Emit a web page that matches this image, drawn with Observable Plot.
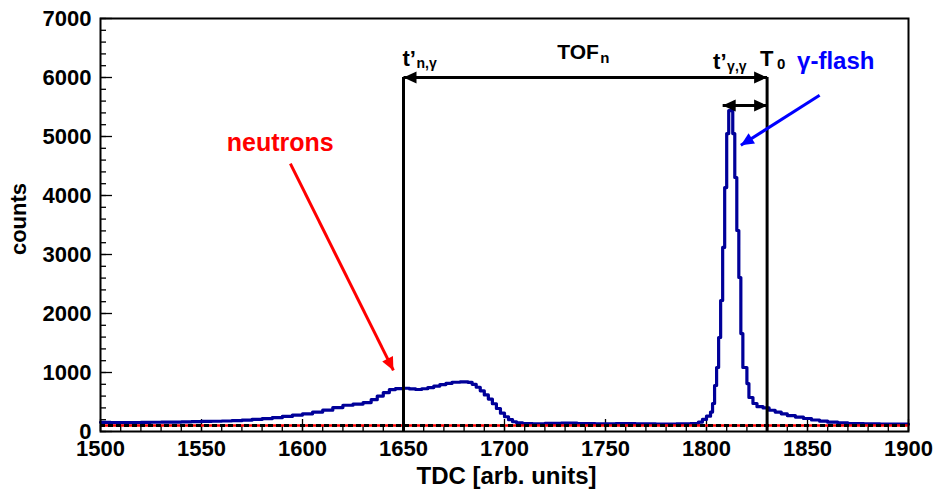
<!DOCTYPE html>
<html>
<head>
<meta charset="utf-8">
<script src="https://cdn.jsdelivr.net/npm/d3@7"></script>
<script src="https://cdn.jsdelivr.net/npm/@observablehq/plot@0.6"></script>
<style>
  body { margin: 0; background: #fff; }
  #chart svg { display: block; }
</style>
</head>
<body>
<div id="chart"></div>
<script>
// TDC spectrum: bin left edges and counts (step histogram)
const tdc = [
  1500, 1505, 1510, 1515, 1520, 1525, 1530, 1535, 1540, 1545,
  1550, 1555, 1560, 1565, 1570, 1575, 1580, 1585, 1590, 1595,
  1600, 1605, 1610, 1615, 1620, 1625, 1630, 1634, 1637, 1640,
  1643, 1646, 1650, 1653, 1656, 1659, 1662, 1665, 1668, 1671,
  1674, 1678, 1682, 1684, 1686, 1688, 1690, 1692, 1694, 1696,
  1698, 1700, 1702, 1704, 1706, 1709, 1714, 1720, 1728, 1736,
  1745, 1755, 1765, 1775, 1785, 1792, 1796, 1798, 1800, 1802,
  1803, 1804, 1805, 1806, 1807, 1808, 1809, 1810, 1811, 1812,
  1813, 1814, 1815, 1816, 1817, 1818, 1820, 1821, 1823, 1825,
  1828, 1831, 1834, 1837, 1840, 1844, 1848, 1852, 1856, 1860,
  1865, 1870, 1878, 1886, 1894, 1900
];
const counts = [
  155, 152, 150, 152, 155, 157, 158, 160, 163, 166,
  170, 174, 178, 184, 192, 205, 218, 235, 255, 278,
  300, 330, 362, 405, 445, 465, 490, 540, 600, 660,
  710, 728, 733, 722, 712, 725, 745, 770, 795, 815,
  835, 840, 832, 800, 750, 690, 620, 550, 470, 390,
  310, 250, 200, 165, 145, 135, 130, 138, 142, 135,
  130, 132, 128, 125, 128, 135, 160, 205, 260, 330,
  475, 780, 1085, 1593, 2220, 3120, 4135, 5050, 5440, 5440,
  5050, 4305, 3407, 2610, 1660, 1085, 813, 576, 475, 420,
  400, 360, 330, 300, 270, 245, 220, 195, 175, 158,
  145, 135, 130, 125, 125, 125
];

// Axis ticks
const xTickLabels = [1500, 1550, 1600, 1650, 1700, 1750, 1800, 1850, 1900];
const yTickLabels = [0, 1000, 2000, 3000, 4000, 5000, 6000, 7000];
const xMinorTicks = d3.range(1500, 1901, 10);
const yMinorTicks = d3.range(0, 7001, 200);

// Annotation anchors (TDC, counts)
const baselineLevel = 100;
const tNeutron = 1650;      // t'_{n,γ}
const tZero = 1830;         // T0
const tGamma = 1808;        // t'_{γ,γ}
const tofLevel = 6000;
const gammaLevel = 5525;
const neutronArrow = {from: [1594, 4540], to: [1645, 1035]};
const flashArrow = {from: [1856, 5700], to: [1817, 4850]};
const neutronLabelAt = [1589, 4760];

// Layout
const W = 937, H = 496;
const M = {top: 18, right: 29, bottom: 65, left: 100};
const frameW = W - M.left - M.right;
const frameH = H - M.top - M.bottom;
const xDomain = [1500, 1900], yDomain = [0, 7000];
const sx = d3.scaleLinear(xDomain, [M.left, W - M.right]);
const sy = d3.scaleLinear(yDomain, [H - M.bottom, M.top]);

const FONT = "'Liberation Sans', Arial, Helvetica, sans-serif";
const NAVY = "#000099";

// Filled arrowhead with its tip at the origin, pointing along the given screen angle
function headSymbol(angleDeg, len = 13, half = 6) {
  const a = angleDeg * Math.PI / 180;
  const c = Math.cos(a), s = Math.sin(a);
  const rot = ([px, py]) => [px * c - py * s, px * s + py * c];
  const pts = [[0, 0], [-half, len], [half, len]].map(rot);
  return {
    draw(ctx) {
      ctx.moveTo(pts[0][0], pts[0][1]);
      ctx.lineTo(pts[1][0], pts[1][1]);
      ctx.lineTo(pts[2][0], pts[2][1]);
      ctx.closePath();
    }
  };
}
function heading(from, to) {
  const dx = sx(to[0]) - sx(from[0]);
  const dy = sy(to[1]) - sy(from[1]);
  return Math.atan2(dx, -dy) * 180 / Math.PI;
}
function arrow(from, to, color, both = false) {
  const marks = [
    Plot.link([0], {
      x1: () => from[0], y1: () => from[1], x2: () => to[0], y2: () => to[1],
      stroke: color, strokeWidth: 3
    }),
    Plot.dot([to], {x: d => d[0], y: d => d[1], symbol: headSymbol(heading(from, to)), fill: color, stroke: "none"})
  ];
  if (both) {
    marks.push(Plot.dot([from], {x: d => d[0], y: d => d[1], symbol: headSymbol(heading(to, from)), fill: color, stroke: "none"}));
  }
  return marks;
}
function label(text, x, y, opts = {}) {
  return Plot.text([text], {
    x: () => x, y: () => y, text: d => d,
    textAnchor: "start", lineAnchor: "bottom",
    fontFamily: FONT, fontWeight: "bold", fill: "black",
    ...opts
  });
}

const hist = tdc.map((t, i) => ({t, c: counts[i]}));
const tofMid = (tNeutron + tZero) / 2;

const chart = Plot.plot({
  width: W, height: H,
  marginTop: M.top, marginRight: M.right, marginBottom: M.bottom, marginLeft: M.left,
  style: {background: "white", fontFamily: FONT},
  x: {domain: xDomain, axis: null},
  y: {domain: yDomain, axis: null},
  marks: [
    // inner ticks
    Plot.tickX(xMinorTicks, {x: d => d, insetTop: frameH - 6, stroke: "black", strokeWidth: 1.3}),
    Plot.tickX(xTickLabels, {x: d => d, insetTop: frameH - 12, stroke: "black", strokeWidth: 1.3}),
    Plot.tickY(yMinorTicks, {y: d => d, insetRight: frameW - 6, stroke: "black", strokeWidth: 1.3}),
    Plot.tickY(yTickLabels, {y: d => d, insetRight: frameW - 12, stroke: "black", strokeWidth: 1.3}),

    // spectrum
    Plot.line(hist, {x: "t", y: "c", curve: "step-after", stroke: NAVY, strokeWidth: 3.2}),

    // background level
    Plot.ruleY([baselineLevel], {y: d => d, stroke: "#ff0000", strokeWidth: 2.5, strokeDasharray: "3,5", strokeDashoffset: -5}),
    Plot.ruleY([baselineLevel], {y: d => d, stroke: "black", strokeWidth: 3, strokeDasharray: "5,3"}),

    // time markers
    Plot.ruleX([tNeutron, tZero], {x: d => d, y1: () => 0, y2: () => tofLevel, stroke: "black", strokeWidth: 3}),
    ...arrow([tNeutron, tofLevel], [tZero, tofLevel], "black", true),
    ...arrow([tGamma, gammaLevel], [tZero, gammaLevel], "black", true),
    ...arrow(neutronArrow.from, neutronArrow.to, "#ff0000"),
    ...arrow(flashArrow.from, flashArrow.to, "#0000ff"),

    // marker labels
    label("t’", tNeutron, tofLevel, {fontSize: 22, dx: -1, dy: -12}),
    label("n,γ", tNeutron, tofLevel, {fontSize: 14, dx: 13, dy: -10}),
    label("TOF", tofMid, tofLevel, {fontSize: 21, dx: -28, dy: -19}),
    label("n", tofMid, tofLevel, {fontSize: 15, dx: 15, dy: -15}),
    label("t’", tZero, tofLevel, {fontSize: 22, dx: -54, dy: -9}),
    label("γ,γ", tZero, tofLevel, {fontSize: 14, dx: -40, dy: -7}),
    label("T", tZero, tofLevel, {fontSize: 22, dx: -7, dy: -12}),
    label("0", tZero, tofLevel, {fontSize: 15, dx: 10, dy: -9}),
    label("γ-flash", tZero, tofLevel, {fontSize: 24, dx: 30, dy: -9, fill: "#0000ff"}),
    label("neutrons", neutronLabelAt[0], neutronLabelAt[1], {fontSize: 25, textAnchor: "middle", fill: "#ff0000"}),

    // tick labels
    Plot.text(xTickLabels, {x: d => d, y: () => 0, text: d => String(d), textAnchor: "middle", lineAnchor: "bottom", dy: 24, fontSize: 22, fontWeight: "bold", fontFamily: FONT, fill: "black"}),
    Plot.text(yTickLabels, {x: () => 1500, y: d => d, text: d => String(d), textAnchor: "end", lineAnchor: "middle", dx: -9, dy: 0, fontSize: 22, fontWeight: "bold", fontFamily: FONT, fill: "black"}),

    // axis titles
    Plot.text(["TDC [arb. units]"], {frameAnchor: "bottom", text: d => d, textAnchor: "middle", lineAnchor: "bottom", dx: 2, dy: 52, fontSize: 24, fontWeight: "bold", fontFamily: FONT, fill: "black"}),
    Plot.text(["counts"], {frameAnchor: "left", text: d => d, rotate: -90, textAnchor: "middle", lineAnchor: "bottom", dx: -75, dy: -6, fontSize: 22, fontWeight: "bold", fontFamily: FONT, fill: "black"}),

    Plot.frame({stroke: "black", strokeWidth: 2})
  ]
});

document.getElementById("chart").appendChild(chart);
</script>
</body>
</html>
